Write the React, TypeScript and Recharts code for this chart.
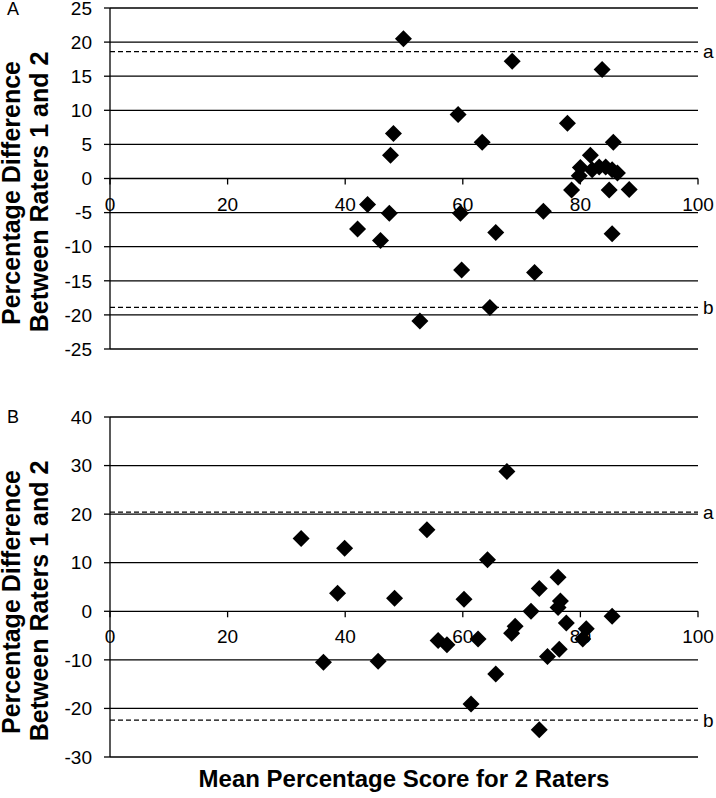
import React from 'react';
import { ScatterChart, Scatter, XAxis, YAxis, CartesianGrid, ReferenceLine, ReferenceDot } from 'recharts';

// Panel A data
const xA = [49.9, 68.4, 83.7, 59.2, 77.8, 48.2, 63.3, 85.6, 47.7, 81.7, 80.0, 79.8, 82.0, 83.2, 84.3, 85.4, 86.3, 78.5, 84.9, 88.3, 43.8, 47.5, 59.6, 73.7, 42.1, 46.0, 65.6, 85.4, 59.8, 72.2, 64.6, 52.7];
const yA = [20.5, 17.2, 16.0, 9.4, 8.1, 6.6, 5.3, 5.3, 3.4, 3.4, 1.6, 0.4, 1.3, 1.7, 1.7, 1.3, 0.8, -1.7, -1.7, -1.6, -3.8, -5.1, -5.1, -4.8, -7.4, -9.1, -7.9, -8.1, -13.4, -13.8, -18.9, -20.9];
const limitsA = { a: 18.6, b: -18.9 };
const yTicksA = [-25, -20, -15, -10, -5, 0, 5, 10, 15, 20, 25];

// Panel B data
const xB = [32.5, 39.9, 38.7, 36.3, 67.5, 53.9, 64.2, 76.2, 73.0, 48.4, 60.2, 76.6, 76.2, 71.6, 85.4, 77.6, 68.9, 68.3, 81.0, 80.4, 55.8, 57.3, 62.6, 76.4, 74.4, 45.6, 65.6, 61.4, 73.0];
const yB = [15.0, 13.0, 3.7, -10.5, 28.8, 16.8, 10.6, 7.0, 4.7, 2.7, 2.5, 2.1, 0.8, 0.0, -1.0, -2.4, -3.1, -4.5, -3.6, -5.7, -6.0, -6.9, -5.7, -7.8, -9.3, -10.3, -12.9, -19.1, -24.4];
const limitsB = { a: 20.4, b: -22.4 };
const yTicksB = [-30, -20, -10, 0, 10, 20, 30, 40];

const xTicks = [0, 20, 40, 60, 80, 100];

const dataA = xA.map((x, i) => ({ x, y: yA[i] }));
const dataB = xB.map((x, i) => ({ x, y: yB[i] }));

const FONT = '"Liberation Sans", Arial, sans-serif';

const Diamond = (props: any) => {
  const { cx, cy } = props;
  const h = 8.5;
  return <path d={`M${cx},${cy - h}L${cx + h},${cy}L${cx},${cy + h}L${cx - h},${cy}Z`} fill="#000" />;
};

const makeXTick = (label: number) => (props: any) => {
  const { cx, cy } = props;
  return (
    <g>
      <line x1={cx} y1={cy} x2={cx} y2={cy + 6} stroke="#000" strokeWidth={1.3} />
      <text x={cx} y={cy + 32} textAnchor="middle" fontSize={19} fill="#000" fontFamily={FONT}>{label}</text>
    </g>
  );
};

const Panel = ({ data, yTicks, limits, height, top, bottom }: any) => (
  <ScatterChart width={716} height={height} margin={{ top, right: 18, bottom, left: 0 }}>
    <CartesianGrid horizontal vertical={false} stroke="#000" strokeWidth={1.3} strokeOpacity={1} />
    <XAxis type="number" dataKey="x" domain={[0, 100]} ticks={xTicks} hide />
    <YAxis
      type="number"
      dataKey="y"
      domain={[yTicks[0], yTicks[yTicks.length - 1]]}
      ticks={yTicks}
      interval={0}
      width={110}
      tickSize={6}
      tickMargin={12}
      axisLine={{ stroke: '#000', strokeWidth: 1.3 }}
      tickLine={{ stroke: '#000', strokeWidth: 1.3 }}
      tick={{ fill: '#000', fontSize: 19, fontFamily: FONT }}
    />
    {xTicks.map((t) => (
      <ReferenceDot key={t} x={t} y={0} ifOverflow="visible" shape={makeXTick(t)} />
    ))}
    <ReferenceLine
      y={limits.a}
      stroke="#000"
      strokeWidth={1.3}
      strokeDasharray="5 3"
      label={{ value: 'a', position: 'right', offset: 5, fill: '#000', fontSize: 19, fontFamily: FONT }}
    />
    <ReferenceLine
      y={limits.b}
      stroke="#000"
      strokeWidth={1.3}
      strokeDasharray="5 3"
      label={{ value: 'b', position: 'right', offset: 5, fill: '#000', fontSize: 19, fontFamily: FONT }}
    />
    <Scatter data={data} shape={Diamond} isAnimationActive={false} fill="#000" />
  </ScatterChart>
);

const YLabel = ({ cy }: { cy: number }) => (
  <g fontFamily={FONT} fontWeight="bold" fontSize={25} fill="#000">
    <text x={20} y={cy + 1} textAnchor="middle" transform={`rotate(-90 20 ${cy + 1})`}>Percentage Difference</text>
    <text x={48} y={cy} textAnchor="middle" transform={`rotate(-90 48 ${cy})`}>Between Raters 1 and 2</text>
  </g>
);

export default function App() {
  return (
    <div style={{ position: 'absolute', left: 0, top: 0, width: 716, height: 798, background: '#fff', fontFamily: FONT }}>
      <div style={{ position: 'absolute', left: 0, top: 0 }}>
        <Panel data={dataA} yTicks={yTicksA} limits={limitsA} height={360} top={8} bottom={11} />
      </div>
      <div style={{ position: 'absolute', left: 0, top: 360 }}>
        <Panel data={dataB} yTicks={yTicksB} limits={limitsB} height={438} top={57} bottom={41} />
      </div>
      <svg width={716} height={798} style={{ position: 'absolute', left: 0, top: 0, pointerEvents: 'none' }}>
        <text x={7} y={15} fontSize={18} fill="#000" fontFamily={FONT}>A</text>
        <text x={7} y={423} fontSize={18} fill="#000" fontFamily={FONT}>B</text>
        <YLabel cy={192} />
        <YLabel cy={601} />
        <text x={404} y={787} textAnchor="middle" fontSize={24} fontWeight="bold" fill="#000" fontFamily={FONT}>Mean Percentage Score for 2 Raters</text>
      </svg>
    </div>
  );
}
